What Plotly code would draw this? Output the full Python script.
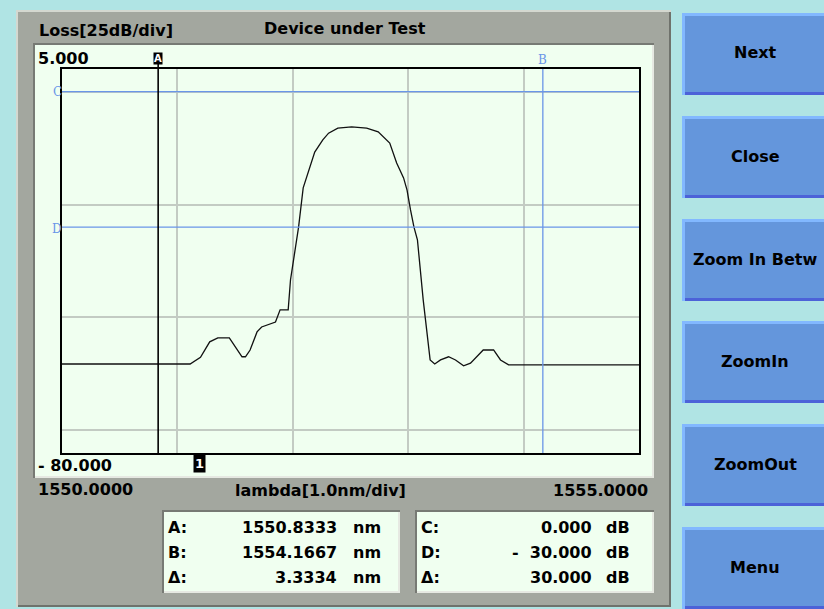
import plotly.graph_objects as go

# Measured transmission of the device under test
wavelength_nm = [1550.00, 1551.11, 1551.20, 1551.28, 1551.35, 1551.45, 1551.56, 1551.59,
                 1551.63, 1551.69, 1551.73, 1551.85, 1551.89, 1551.96, 1551.98, 1552.03,
                 1552.05, 1552.09, 1552.19, 1552.26, 1552.31, 1552.39, 1552.51, 1552.64,
                 1552.74, 1552.84, 1552.90, 1552.96, 1552.99, 1553.02, 1553.05, 1553.08,
                 1553.13, 1553.19, 1553.23, 1553.28, 1553.35, 1553.41, 1553.48, 1553.54,
                 1553.65, 1553.74, 1553.80, 1553.87, 1555.00]
loss_db = [-60.3, -60.3, -58.8, -55.4, -54.5, -54.5, -58.7, -58.7,
           -57.2, -53.2, -52.1, -51.0, -48.3, -48.3, -41.7, -32.8,
           -30.0, -21.3, -13.4, -10.7, -9.2, -8.1, -7.8, -8.1,
           -8.9, -11.4, -15.8, -19.1, -21.8, -26.2, -30.0, -32.8,
           -46.1, -59.4, -60.3, -59.4, -58.7, -59.4, -60.7, -60.1,
           -57.2, -57.2, -59.4, -60.5, -60.5]

# Axis span and cursors
x_range = [1550.0, 1555.0]
y_range = [-80.0, 5.0]
x_grid = [1551, 1552, 1553, 1554]
y_grid = [-75, -50, -25, 0]
cursor_a = 1550.8333
cursor_b = 1554.1667
cursor_c = 0.0
cursor_d = -30.0
trace_marker_x = 1551.19

info_left = [("A:", "1550.8333", "nm"), ("B:", "1554.1667", "nm"), ("\u0394:", "3.3334", "nm")]
info_right = [("C:", "0.000", "dB"), ("D:", "-  30.000", "dB"), ("\u0394:", "30.000", "dB")]
buttons = ["Next", "Close", "Zoom In Betw", "ZoomIn", "ZoomOut", "Menu"]

W, H = 824, 609
L, T, R, B = 62, 69, 639, 453
PW, PH = R - L, B - T


def px(x):
    return (x - L) / PW


def py(y):
    return (B - y) / PH


FONT = "DejaVu Sans"
CYAN = "#b0e4e4"
GRAY = "#a3a79f"
PANEL = "#f0fff0"
BLUE = "#6496dc"
CURSOR = "#6a96e8"

shapes = []


def rect(x0, y0, x1, y1, fill):
    shapes.append(dict(type="rect", xref="paper", yref="paper", layer="below",
                       x0=px(x0), x1=px(x1), y0=py(y1), y1=py(y0),
                       fillcolor=fill, line=dict(width=0)))


def bevel(x0, y0, x1, y1, light, dark, fill, w=3):
    rect(x0, y0, x1, y1, light)
    rect(x0 + w, y0 + w, x1, y1, dark)
    rect(x0 + w, y0 + w, x1 - w, y1 - w, fill)


# Gray instrument panel
bevel(16, 10, 671, 607, "#d4d8d0", "#6f726c", GRAY, w=2)
# Inset display area
bevel(33, 43, 654, 478, "#777a74", "#e6e9e2", PANEL, w=2)
# Readout boxes
bevel(162, 510, 400, 593, "#777a74", "#e6e9e2", PANEL, w=2)
bevel(415, 510, 654, 593, "#777a74", "#e6e9e2", PANEL, w=2)

# Soft keys
btn_tops = [13, 116, 219, 321, 424, 527]
btn_h = 82
for top in btn_tops:
    bevel(682, top, 828, top + btn_h, "#82b8ff", "#4c62d8", BLUE, w=3)

# Cursor lines
shapes.append(dict(type="line", xref="x", yref="paper", x0=cursor_b, x1=cursor_b, y0=0, y1=1,
                   line=dict(color=CURSOR, width=1.3)))
shapes.append(dict(type="line", xref="paper", yref="y", x0=0, x1=1, y0=cursor_c, y1=cursor_c,
                   line=dict(color=CURSOR, width=1.3)))
shapes.append(dict(type="line", xref="paper", yref="y", x0=0, x1=1, y0=cursor_d, y1=cursor_d,
                   line=dict(color=CURSOR, width=1.3)))
shapes.append(dict(type="line", xref="x", yref="paper", x0=cursor_a, x1=cursor_a, y0=0, y1=py(64),
                   line=dict(color="black", width=1.6)))

ann = []


def text(x, y, s, anchor="left", size=16, color="black", bold=True, family=FONT):
    ann.append(dict(xref="paper", yref="paper", x=px(x), y=py(y), text=s, showarrow=False,
                    xanchor=anchor, yanchor="middle",
                    font=dict(family=family, size=size, color=color,
                              weight="bold" if bold else "normal")))


text(37, 30, "Loss[25dB/div]")
text(345, 29, "Device under Test", anchor="center")
text(36, 59, "5.000")
text(36, 465, "- 80.000")
text(36, 489, "1550.0000")
text(320, 490, "lambda[1.0nm/div]", anchor="center")
text(650, 490, "1555.0000", anchor="right")

rows_y = [527, 552, 577]
for (lab, val, unit), yy in zip(info_left, rows_y):
    text(166, yy, lab)
    text(339, yy, val, anchor="right")
    text(351, yy, unit)
for (lab, val, unit), yy in zip(info_right, rows_y):
    text(419, yy, lab)
    text(594, yy, val, anchor="right")
    text(604, yy, unit)

for name, top in zip(buttons, btn_tops):
    text(755, top + btn_h / 2 - 1, name, anchor="center")

# Cursor labels
text(57, 92, "C", anchor="center", size=12, color=CURSOR, bold=False, family="DejaVu Serif")
text(57, 229, "D", anchor="center", size=12, color=CURSOR, bold=False, family="DejaVu Serif")
ann.append(dict(xref="x", yref="paper", x=cursor_b, y=py(60), text="B", showarrow=False,
                xanchor="center", yanchor="middle",
                font=dict(family="DejaVu Serif", size=12, color=CURSOR)))
ann.append(dict(xref="x", yref="paper", x=cursor_a, y=py(59), text="A", showarrow=False,
                xanchor="center", yanchor="middle", bgcolor="black", borderpad=0,
                font=dict(family=FONT, size=10, color="white", weight="bold")))
ann.append(dict(xref="x", yref="paper", x=trace_marker_x, y=py(463), text="1", showarrow=False,
                xanchor="center", yanchor="middle", bgcolor="black", borderpad=1,
                font=dict(family=FONT, size=13, color="white", weight="bold")))

fig = go.Figure()
fig.add_trace(go.Scatter(x=wavelength_nm, y=loss_db, mode="lines",
                         line=dict(color="#111111", width=1.3), hoverinfo="skip"))

fig.update_layout(
    width=W, height=H,
    margin=dict(l=L, r=W - R, t=T, b=H - B),
    paper_bgcolor=CYAN, plot_bgcolor=PANEL,
    showlegend=False,
    shapes=shapes, annotations=ann,
    xaxis=dict(range=x_range, tickvals=x_grid, showticklabels=False, ticks="",
               showgrid=True, gridcolor="#c3cbc3", gridwidth=1.6, zeroline=False,
               showline=True, mirror=True, linecolor="black", linewidth=2),
    yaxis=dict(range=y_range, tickvals=y_grid, showticklabels=False, ticks="",
               showgrid=True, gridcolor="#c3cbc3", gridwidth=1.6, zeroline=False,
               showline=True, mirror=True, linecolor="black", linewidth=2),
)

fig.write_html("out.html")
